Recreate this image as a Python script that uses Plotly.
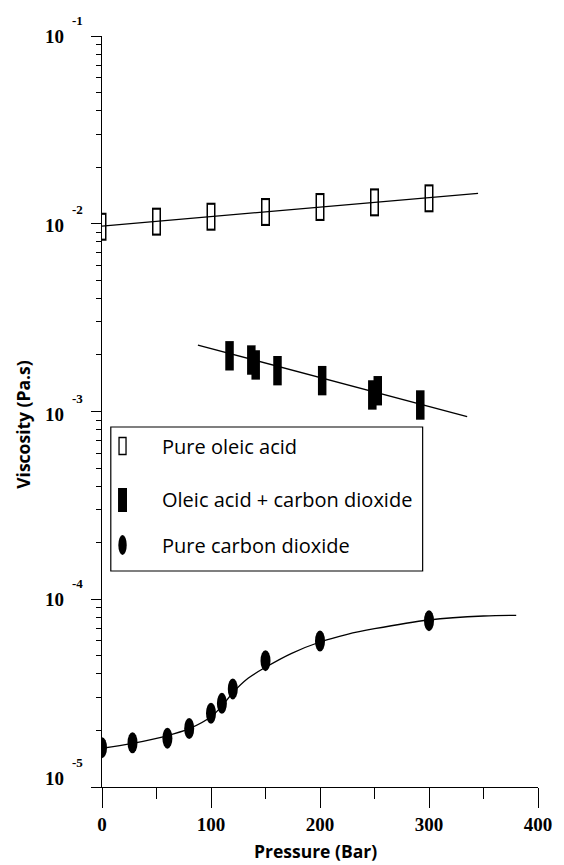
import numpy as np
import plotly.graph_objects as go

# ---- data ----
oleic_p = [0, 50, 100, 150, 200, 250, 300]
oleic_v = [0.00964, 0.01026, 0.0109, 0.01155, 0.01228, 0.0130, 0.01366]
oleic_fit_p = [0, 345]
oleic_fit_v = [0.00972, 0.01453]

mix_p = [117, 137, 141, 161, 202, 248, 253, 292]
mix_v = [1.98e-3, 1.88e-3, 1.77e-3, 1.65e-3, 1.46e-3, 1.225e-3, 1.29e-3, 1.083e-3]
mix_fit_p = [88, 335]
mix_fit_v = [2.26e-3, 9.38e-4]

co2_p = [0, 28, 60, 80, 100, 110, 120, 150, 200, 300]
co2_v = [1.62e-5, 1.72e-5, 1.82e-5, 2.05e-5, 2.47e-5, 2.79e-5, 3.33e-5, 4.71e-5, 5.99e-5, 7.69e-5]
co2_fit_p = [0, 28, 59, 80, 100, 110, 120, 134, 150, 174, 200, 225, 250, 300, 350, 380]
co2_fit_v = [1.608e-5, 1.709e-5, 1.869e-5, 2.044e-5, 2.367e-5, 2.70e-5, 3.178e-5, 3.792e-5,
             4.34e-5, 5.154e-5, 5.92e-5, 6.506e-5, 6.967e-5, 7.752e-5, 8.142e-5, 8.212e-5]

x_ticks = [0, 100, 200, 300, 400]
y_exps = [-1, -2, -3, -4, -5]
legend_labels = ["Pure oleic acid", "Oleic acid + carbon dioxide", "Pure carbon dioxide"]

W, H = 564, 865
L, R, T, B = 102, 16, 36, 78
Y_RANGE = [-5, -1]

fig = go.Figure()

# open rectangles: black bar with white interior
fig.add_trace(go.Scatter(x=oleic_p, y=oleic_v, mode="markers", showlegend=False,
                         marker=dict(symbol="line-ns", size=20, line=dict(width=9, color="black"))))
fig.add_trace(go.Scatter(x=oleic_p, y=oleic_v, mode="markers", showlegend=False,
                         marker=dict(symbol="line-ns", size=17, line=dict(width=6, color="white"))))
# filled rectangles
fig.add_trace(go.Scatter(x=mix_p, y=mix_v, mode="markers", showlegend=False,
                         marker=dict(symbol="line-ns", size=21, line=dict(width=8.5, color="black"))))

# fit lines
for px_, pv_ in [(oleic_fit_p, oleic_fit_v), (mix_fit_p, mix_fit_v)]:
    fig.add_trace(go.Scatter(x=px_, y=pv_, mode="lines", showlegend=False,
                             line=dict(color="black", width=1.3)))
fig.add_trace(go.Scatter(x=co2_fit_p, y=co2_fit_v, mode="lines", showlegend=False,
                         line=dict(color="black", width=1.3, shape="spline", smoothing=1.0)))

# hidden linear companion axis (in log10 units) used to anchor the ellipse markers
fig.add_trace(go.Scatter(x=co2_p, y=np.log10(co2_v), yaxis="y2", mode="markers",
                         marker=dict(size=1, opacity=0), showlegend=False, hoverinfo="skip"))

shapes = []
# ellipses for CO2, anchored to data
for p, v in zip(co2_p, co2_v):
    shapes.append(dict(type="circle", xref="x", yref="y2", xsizemode="pixel", ysizemode="pixel",
                       xanchor=p, yanchor=float(np.log10(v)), x0=-5, x1=5, y0=-10.5, y1=10.5,
                       fillcolor="black", line=dict(width=0), layer="above"))

# manual legend
def xp(px):
    return (px - L) / (W - L - R)

def yp(py):
    return (H - B - py) / (H - T - B)

shapes.append(dict(type="rect", xref="paper", yref="paper", x0=xp(111), x1=xp(430), y0=yp(571), y1=yp(427),
                   line=dict(color="black", width=1.2), fillcolor="white", layer="above"))
leg_y = [446, 500, 545]
mx = xp(123)
shapes.append(dict(type="rect", xref="paper", yref="paper", xsizemode="pixel", ysizemode="pixel",
                   xanchor=mx, yanchor=yp(leg_y[0]), x0=-3.5, x1=3.5, y0=-8.5, y1=8.5,
                   fillcolor="white", line=dict(color="black", width=1.3), layer="above"))
shapes.append(dict(type="rect", xref="paper", yref="paper", xsizemode="pixel", ysizemode="pixel",
                   xanchor=mx, yanchor=yp(leg_y[1]), x0=-4.5, x1=4.5, y0=-12, y1=12,
                   fillcolor="black", line=dict(width=0), layer="above"))
shapes.append(dict(type="circle", xref="paper", yref="paper", xsizemode="pixel", ysizemode="pixel",
                   xanchor=mx, yanchor=yp(leg_y[2]), x0=-4.2, x1=4.2, y0=-10, y1=10,
                   fillcolor="black", line=dict(width=0), layer="above"))

annotations = []
for lab, ly in zip(legend_labels, leg_y):
    annotations.append(dict(text=lab, xref="paper", yref="paper", x=xp(161), y=yp(ly),
                            xanchor="left", yanchor="middle", showarrow=False,
                            font=dict(family="Open Sans", size=20, color="black", weight=500)))

# y tick labels as 10 with raised exponent
shift10 = {-1: 0, -2: -2, -3: -3, -4: 0, -5: 9}
for e in y_exps:
    annotations.append(dict(text="10", xref="paper", yref="y", x=xp(53), y=e, yshift=shift10[e],
                            xanchor="center", yanchor="middle", showarrow=False,
                            font=dict(family="Liberation Serif", size=19, color="black", weight="bold")))
    annotations.append(dict(text=str(e), xref="paper", yref="y", x=xp(77), y=e, yshift=shift10[e] + 16,
                            xanchor="center", yanchor="middle", showarrow=False,
                            font=dict(family="Liberation Serif", size=13, color="black", weight="bold")))

# axis titles
annotations.append(dict(text="Pressure (Bar)", xref="paper", yref="paper", x=xp(320), y=yp(851),
                        xanchor="center", yanchor="middle", showarrow=False,
                        font=dict(family="Open Sans", size=17.5, color="black", weight="bold")))
annotations.append(dict(text="Viscosity (Pa.s)", xref="paper", yref="paper", x=xp(21), y=yp(424),
                        xanchor="center", yanchor="middle", showarrow=False, textangle=-90,
                        font=dict(family="Open Sans", size=17.5, color="black", weight="bold")))

minor_y = [k * 10.0 ** e for e in range(-5, -1) for k in range(2, 10)]

fig.update_layout(
    width=W, height=H, margin=dict(l=L, r=R, t=T, b=B),
    paper_bgcolor="white", plot_bgcolor="white",
    shapes=shapes, annotations=annotations, showlegend=False,
    xaxis=dict(range=[0, 400], showgrid=False, zeroline=False, showline=True, linecolor="black",
               linewidth=1.3, ticks="outside", ticklen=20, tickwidth=1.3, tickcolor="black",
               tickvals=x_ticks, ticktext=[str(t) for t in x_ticks],
               tickfont=dict(family="Liberation Serif", size=19, color="black", weight="bold"),
               minor=dict(ticks="outside", ticklen=11, tickwidth=1.2, tickcolor="black", dtick=50, tick0=0)),
    yaxis=dict(type="log", range=Y_RANGE, showgrid=False, zeroline=False, showline=True,
               linecolor="black", linewidth=1.3, ticks="outside", ticklen=10, tickwidth=1.3,
               tickcolor="black", tickvals=[10.0 ** e for e in y_exps], showticklabels=False,
               minor=dict(ticks="outside", ticklen=5, tickwidth=1.1, tickcolor="black",
                          tickmode="array", tickvals=minor_y)),
    yaxis2=dict(overlaying="y", range=Y_RANGE, visible=False, showgrid=False, zeroline=False),
)

fig.write_html("out.html")
